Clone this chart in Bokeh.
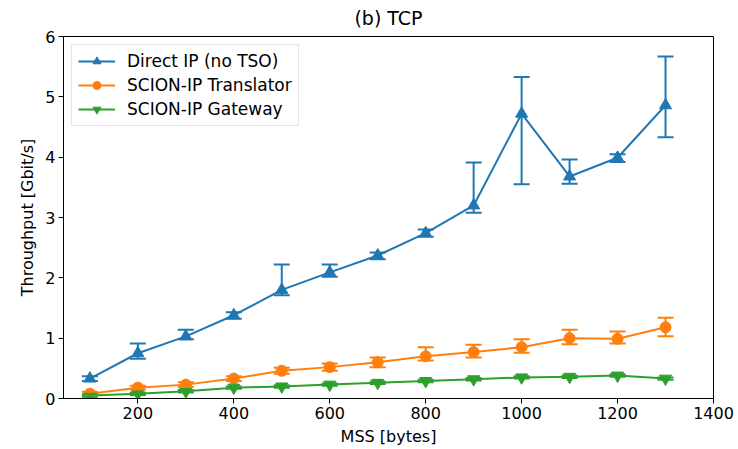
from bokeh.plotting import figure
from bokeh.models import (ColumnDataSource, Whisker, TeeHead, Range1d, FixedTicker,
                          Legend, LegendItem)
from bokeh.embed import file_html
from bokeh.resources import INLINE

# ---- data ----
mss = [100, 200, 300, 400, 500, 600, 700, 800, 900, 1000, 1100, 1200, 1300]

direct_ip = [0.33, 0.75, 1.03, 1.38, 1.80, 2.09, 2.37, 2.74, 3.20, 4.72, 3.68, 3.99, 4.86]
direct_ip_lo = [0.29, 0.66, 0.98, 1.32, 1.71, 2.02, 2.31, 2.68, 3.08, 3.55, 3.56, 3.92, 4.33]
direct_ip_hi = [0.37, 0.91, 1.14, 1.43, 2.22, 2.22, 2.42, 2.80, 3.91, 5.33, 3.96, 4.05, 5.67]

translator = [0.08, 0.18, 0.23, 0.33, 0.46, 0.52, 0.60, 0.70, 0.77, 0.85, 1.00, 0.99, 1.18]
translator_lo = [0.05, 0.15, 0.19, 0.29, 0.41, 0.46, 0.52, 0.63, 0.68, 0.76, 0.90, 0.91, 1.03]
translator_hi = [0.11, 0.21, 0.27, 0.37, 0.51, 0.58, 0.68, 0.85, 0.89, 0.98, 1.14, 1.11, 1.34]

gateway = [0.05, 0.08, 0.12, 0.18, 0.20, 0.23, 0.26, 0.29, 0.32, 0.35, 0.36, 0.38, 0.33]
gateway_lo = [0.03, 0.06, 0.10, 0.16, 0.18, 0.21, 0.24, 0.27, 0.30, 0.33, 0.34, 0.36, 0.31]
gateway_hi = [0.07, 0.10, 0.14, 0.20, 0.22, 0.25, 0.28, 0.31, 0.34, 0.37, 0.38, 0.40, 0.35]

labels = ["Direct IP (no TSO)", "SCION-IP Translator", "SCION-IP Gateway"]
colors = ["#1f77b4", "#ff7f0e", "#2ca02c"]
markers = ["triangle", "circle", "inverted_triangle"]
marker_sizes = [12, 11, 12]

x_ticks = [200, 400, 600, 800, 1000, 1200, 1400]
y_ticks = [0, 1, 2, 3, 4, 5, 6]

FONT = "DejaVu Sans"

p = figure(width=738, height=449, output_backend="svg", toolbar_location=None,
           x_range=Range1d(45, 1400), y_range=Range1d(0, 6),
           min_border_left=63, min_border_right=25, min_border_top=36,
           min_border_bottom=51)

p.title.text = "(b) TCP"
p.title.align = "center"
p.title.vertical_align = "top"
p.title.text_font = FONT
p.title.text_font_size = "19px"
p.title.text_font_style = "normal"
p.title.text_color = "black"
p.title.standoff = 12
p.title.offset = 0

p.xgrid.visible = False
p.ygrid.visible = False
p.outline_line_color = "black"
p.outline_line_width = 1
p.outline_line_alpha = 1

for ax in (p.xaxis[0], p.yaxis[0]):
    ax.axis_line_color = "black"
    ax.major_tick_line_color = "black"
    ax.major_tick_out = 5
    ax.major_tick_in = 0
    ax.minor_tick_line_color = None
    ax.major_label_text_font = FONT
    ax.major_label_text_font_size = "16px"
    ax.major_label_text_color = "black"
    ax.axis_label_text_font = FONT
    ax.axis_label_text_font_size = "16px"
    ax.axis_label_text_font_style = "normal"
    ax.axis_label_text_color = "black"
    ax.major_label_standoff = 3
    ax.axis_label_standoff = 5

p.xaxis.ticker = FixedTicker(ticks=x_ticks)
p.yaxis.ticker = FixedTicker(ticks=y_ticks)
p.xaxis.axis_label = "MSS [bytes]"
p.yaxis.axis_label = "Throughput [Gbit/s]"

series = [(direct_ip, direct_ip_lo, direct_ip_hi),
          (translator, translator_lo, translator_hi),
          (gateway, gateway_lo, gateway_hi)]

items = []
for (vals, lo, hi), lab, col, mk, ms in zip(series, labels, colors, markers, marker_sizes):
    src = ColumnDataSource(dict(x=mss, y=vals, lo=lo, hi=hi))
    ln = p.line("x", "y", source=src, line_color=col, line_width=2)
    w = Whisker(source=src, base="x", lower="lo", upper="hi",
                line_color=col, line_width=2,
                upper_head=TeeHead(size=16, line_color=col, line_width=2),
                lower_head=TeeHead(size=16, line_color=col, line_width=2))
    w.level = "glyph"
    p.add_layout(w)
    sc = p.scatter("x", "y", source=src, marker=mk, size=ms,
                   fill_color=col, line_color=col)
    items.append(LegendItem(label=lab, renderers=[ln, sc]))

legend = Legend(items=items, location="top_left")
legend.label_text_font = FONT
legend.label_text_font_size = "17px"
legend.label_text_color = "black"
legend.glyph_width = 37
legend.glyph_height = 20
legend.label_height = 20
legend.spacing = 4
legend.padding = 6
legend.margin = 8
legend.label_standoff = 12
legend.border_line_color = "#cccccc"
legend.border_line_width = 1
legend.background_fill_alpha = 0.8
p.add_layout(legend)

open("out.html", "w").write(file_html(p, INLINE))
